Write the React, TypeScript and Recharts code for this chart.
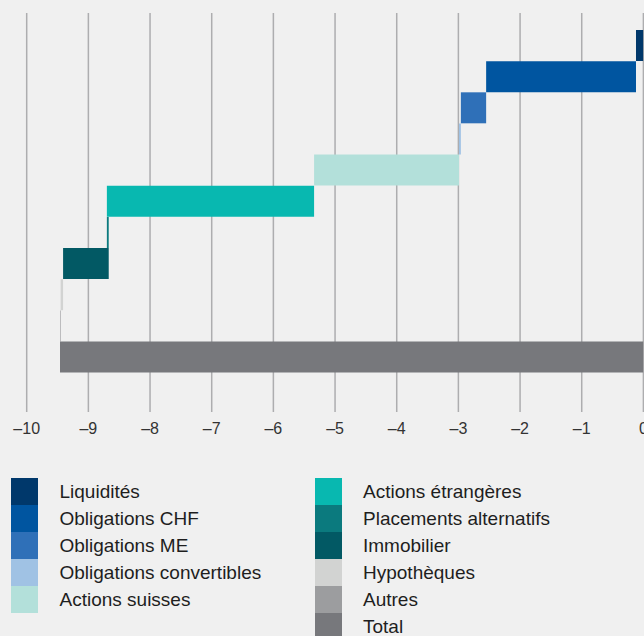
import React from 'react';
import { BarChart, Bar, XAxis, YAxis, CartesianGrid, Cell } from 'recharts';

const categories = [
  'Liquidités',
  'Obligations CHF',
  'Obligations ME',
  'Obligations convertibles',
  'Actions suisses',
  'Actions étrangères',
  'Placements alternatifs',
  'Immobilier',
  'Hypothèques',
  'Autres',
  'Total',
];
const changes = [-0.12, -2.43, -0.41, -0.03, -2.35, -3.36, 0.03, -0.74, -0.04, -0.01];
const totalValue = -9.46;
const colors = [
  '#00386b',
  '#0055a0',
  '#2f70b8',
  '#a0c2e4',
  '#b3e0da',
  '#08b8b0',
  '#0b7a7e',
  '#025964',
  '#d2d3d2',
  '#9c9d9f',
  '#77787c',
];
const xTicks = [-10, -9, -8, -7, -6, -5, -4, -3, -2, -1, 0];

const data = (() => {
  const rows: { name: string; range: [number, number] }[] = [];
  let cum = 0;
  changes.forEach((v, i) => {
    const start = cum;
    cum = cum + v;
    rows.push({ name: categories[i], range: [Math.min(start, cum), Math.max(start, cum)] });
  });
  rows.push({ name: categories[10], range: [totalValue, 0] });
  return rows;
})();

const FONT = '"Liberation Sans", Arial, Helvetica, sans-serif';

const fmt = (v: number) => (v < 0 ? '\u2013' + Math.abs(v) : String(v));

export default function App() {
  const leftItems = categories.slice(0, 5).map((c, i) => ({ c, col: colors[i] }));
  const rightItems = categories.slice(5).map((c, i) => ({ c, col: colors[i + 5] }));
  return (
    <div
      style={{
        position: 'absolute',
        left: 0,
        top: 0,
        width: 644,
        height: 636,
        overflow: 'hidden',
        background: '#f0f0f0',
        fontFamily: FONT,
      }}
    >
      <div style={{ position: 'absolute', left: 0, top: 0 }}>
        <BarChart
          width={670}
          height={460}
          data={data}
          layout="vertical"
          barCategoryGap={0}
          margin={{ top: 13, right: 26.6, bottom: 18, left: 26.7 }}
        >
          <CartesianGrid horizontal={false} stroke="#adadaf" strokeWidth={1.5} />
          <XAxis
            type="number"
            domain={[-10, 0]}
            ticks={xTicks}
            allowDataOverflow
            axisLine={false}
            tickLine={false}
            tickMargin={5}
            height={30}
            tickFormatter={fmt}
            tick={{ fill: '#333333', fontSize: 16, fontFamily: FONT }}
          />
          <YAxis
            type="category"
            dataKey="name"
            hide
            padding={{ top: 17, bottom: 39.3 }}
          />
          <Bar dataKey="range" isAnimationActive={false}>
            {data.map((d, i) => (
              <Cell key={d.name} fill={colors[i]} />
            ))}
          </Bar>
        </BarChart>
      </div>
      {[leftItems, rightItems].map((items, colIdx) => (
        <div
          key={colIdx}
          style={{ position: 'absolute', left: colIdx === 0 ? 11 : 315, top: 478 }}
        >
          {items.map((it) => (
            <div key={it.c} style={{ position: 'relative', height: 27 }}>
              <div
                style={{
                  position: 'absolute',
                  left: 0,
                  top: 0,
                  width: 27,
                  height: 27,
                  background: it.col,
                }}
              />
              <div
                style={{
                  position: 'absolute',
                  left: colIdx === 0 ? 48.5 : 48,
                  top: 0,
                  lineHeight: '27px',
                  fontSize: 19,
                  color: '#1e1e1e',
                  whiteSpace: 'nowrap',
                }}
              >
                {it.c}
              </div>
            </div>
          ))}
        </div>
      ))}
    </div>
  );
}
